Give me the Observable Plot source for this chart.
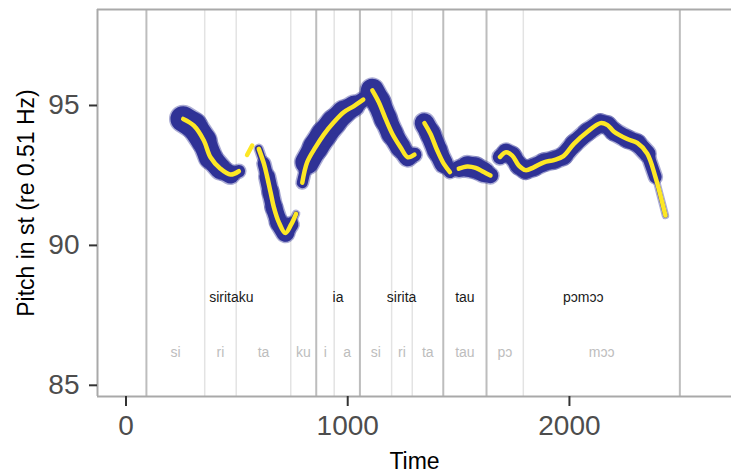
<!DOCTYPE html>
<html>
<head>
<meta charset="utf-8">
<script src="https://cdn.jsdelivr.net/npm/d3@7"></script>
<script src="https://cdn.jsdelivr.net/npm/@observablehq/plot@0.6"></script>
<style>
  html, body { margin: 0; padding: 0; background: #ffffff; overflow: hidden; }
</style>
</head>
<body>
<div id="chart"></div>
<script>
// ---- data ----
const words = ["siritaku", "ia", "sirita", "tau", "pɔmɔɔ"];
const wordBounds = [92, 858, 1055, 1431, 1626, 2498];
const syllables = ["si", "ri", "ta", "ku", "i", "a", "si", "ri", "ta", "tau", "pɔ", "mɔɔ"];
const syllableBounds = [92, 355, 497, 743, 858, 939, 1055, 1198, 1291, 1431, 1626, 1792, 2498];

// pitch contour samples: contour id, time (ms), pitch (st), band thickness (px)
const contourId = [
  1,1,1,1,1,1,1,
  2,2,
  3,3,3,3,3,3,3,3,3,
  4,4,4,4,4,4,4,4,
  5,5,5,5,5,5,5,
  6,6,6,6,6,
  7,7,7,7,7,
  8,8,8,8,8,8,8,8,8,8,8,8,8,8,8,8,8,8,8
];
const contourTime = [
  258, 306, 351, 381, 426, 471, 509,
  546, 569,
  599, 622, 637, 652, 667, 689, 719, 745, 767,
  795, 817, 855, 892, 937, 982, 1028, 1070,
  1111, 1140, 1171, 1201, 1238, 1271, 1301,
  1346, 1373, 1404, 1433, 1461,
  1501, 1539, 1577, 1614, 1644,
  1687, 1714, 1742, 1772, 1802, 1839, 1885, 1930, 1973, 2020, 2080, 2140, 2172, 2200, 2261, 2306, 2351, 2388, 2433
];
const contourPitch = [
  94.52, 94.28, 93.75, 93.15, 92.74, 92.53, 92.65,
  93.23, 93.57,
  93.45, 92.92, 92.44, 91.90, 91.36, 90.83, 90.44, 90.75, 91.13,
  92.24, 92.97, 93.51, 93.96, 94.40, 94.76, 94.98, 95.21,
  95.54, 95.12, 94.52, 93.99, 93.51, 93.15, 93.24,
  94.37, 93.99, 93.39, 92.92, 92.62,
  92.74, 92.82, 92.77, 92.62, 92.50,
  93.16, 93.33, 93.21, 92.85, 92.69, 92.79, 92.97, 93.05, 93.19, 93.63, 94.05, 94.37, 94.30, 94.07, 93.80, 93.66, 93.28, 92.44, 91.07
];
const contourBand = [
  25, 26, 24, 22, 20, 16, 9,
  0, 0,
  5, 10, 15, 16, 16, 17, 18, 11, 0,
  0, 22, 25, 25, 24, 22, 19, 11,
  23, 23, 22, 21, 19, 17, 11,
  19, 20, 20, 17, 7,
  13, 20, 21, 19, 12,
  12, 17, 17, 17, 17, 17, 17, 17, 17, 17, 17, 17, 17, 17, 17, 17, 16, 9, 0
];
const xTicks = [0, 1000, 2000];
const yTicks = [85, 90, 95];
const wordLabelPitch = 88.14;
const syllableLabelPitch = 86.17;

// ---- derived tables ----
const xDomain = [-128.6, 2731];
const yDomain = [84.60, 98.43];

const points = contourTime.map((t, i) => ({id: contourId[i], t, p: contourPitch[i], w: contourBand[i]}));
const bandSegs = [];
for (let i = 1; i < points.length; i++) {
  const a = points[i - 1], b = points[i];
  if (a.id === b.id) bandSegs.push({x1: a.t, y1: a.p, x2: b.t, y2: b.p, w: (a.w + b.w) / 2});
}
const wordLabels = words.map((w, i) => ({label: w, t: (wordBounds[i] + wordBounds[i + 1]) / 2, p: wordLabelPitch}));
const syllableLabels = syllables.map((s, i) => ({label: s, t: (syllableBounds[i] + syllableBounds[i + 1]) / 2, p: syllableLabelPitch}));
const syllableOnly = syllableBounds.filter(b => !wordBounds.includes(b));

const blue = "#2f3296";
const yellow = "#fde725";
const border = "#a9a9a9";

const chart = Plot.plot({
  width: 731,
  height: 475,
  marginLeft: 97,
  marginRight: 0,
  marginTop: 9,
  marginBottom: 79,
  x: {domain: xDomain},
  y: {domain: yDomain},
  style: {fontFamily: "'Liberation Sans', Arial, Helvetica, sans-serif", background: "#ffffff", overflow: "hidden"},
  marks: [
    Plot.ruleX(syllableOnly, {stroke: "#e3e3e3", strokeWidth: 1.5}),
    Plot.ruleX(wordBounds, {stroke: "#bdbdbd", strokeWidth: 2}),
    Plot.ruleY([yDomain[1]], {stroke: border, strokeWidth: 2}),
    Plot.ruleY([yDomain[0]], {stroke: border, strokeWidth: 2}),
    Plot.ruleX([xDomain[0]], {stroke: border, strokeWidth: 2}),
    Plot.text(wordLabels, {x: "t", y: "p", text: "label", fontSize: 14, fill: "#1a1a1a"}),
    Plot.text(syllableLabels, {x: "t", y: "p", text: "label", fontSize: 14, fill: "#bdbdbd"}),
    Plot.link(bandSegs, {x1: "x1", y1: "y1", x2: "x2", y2: "y2", stroke: blue, strokeOpacity: 0.4,
      strokeWidth: d => d.w > 0 ? d.w + 3 : 0, strokeLinecap: "round"}),
    Plot.link(bandSegs, {x1: "x1", y1: "y1", x2: "x2", y2: "y2", stroke: blue,
      strokeWidth: "w", strokeLinecap: "round"}),
    Plot.line(points, {x: "t", y: "p", z: "id", stroke: yellow, strokeWidth: 4.5,
      curve: "catmull-rom", strokeLinecap: "round", strokeLinejoin: "round"}),
    Plot.axisX({ticks: xTicks, tickFormat: d => String(d), tickSize: 10, tickPadding: 9, fontSize: 28, label: null,
      stroke: "#333333", fill: "#4d4d4d", strokeWidth: 2}),
    Plot.axisY({ticks: yTicks, tickFormat: d => String(d), tickSize: 8, tickPadding: 10, fontSize: 28, label: null,
      stroke: "#333333", fill: "#4d4d4d", strokeWidth: 2}),
    Plot.text(["Time"], {frameAnchor: "bottom", dy: 65, fontSize: 23, fill: "#000000", lineAnchor: "middle"}),
    Plot.text(["Pitch in st (re 0.51 Hz)"], {frameAnchor: "left", dx: -71, rotate: -90, fontSize: 23,
      fill: "#000000", textAnchor: "middle", lineAnchor: "middle"})
  ]
});
document.getElementById("chart").appendChild(chart);
</script>
</body>
</html>
